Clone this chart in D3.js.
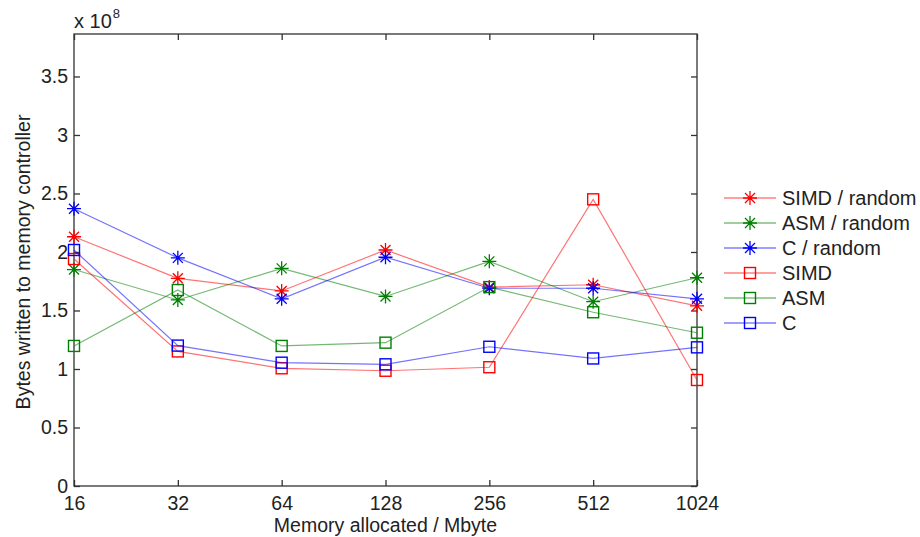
<!DOCTYPE html>
<html><head><meta charset="utf-8">
<script src="https://cdn.jsdelivr.net/npm/d3@7/dist/d3.min.js"></script>
<style>body{margin:0;background:#fff}svg{display:block;font-family:"Liberation Sans",Arial,sans-serif}</style>
</head><body><svg id="c" width="920" height="537"></svg>
<script>
const memSizes = [16, 32, 64, 128, 256, 512, 1024];
const yTicks = [0, 0.5, 1, 1.5, 2, 2.5, 3, 3.5];
const simdRandom = [2.13, 1.775, 1.667, 2.017, 1.70, 1.72, 1.54];
const asmRandom  = [1.85, 1.59, 1.86, 1.62, 1.92, 1.575, 1.78];
const cRandom    = [2.37, 1.95, 1.60, 1.955, 1.69, 1.69, 1.60];
const simd       = [1.94, 1.15, 1.006, 0.985, 1.015, 2.45, 0.906];
const asm        = [1.197, 1.675, 1.197, 1.225, 1.70, 1.485, 1.31];
const cPlain     = [2.017, 1.20, 1.054, 1.04, 1.19, 1.09, 1.185];
const seriesNames = ["SIMD / random", "ASM / random", "C / random", "SIMD", "ASM", "C"];
const seriesData = [simdRandom, asmRandom, cRandom, simd, asm, cPlain];
const seriesColors = ["#ff0000", "#008000", "#0000ff", "#ff0000", "#008000", "#0000ff"];
const seriesMarkers = ["star", "star", "star", "square", "square", "square"];

const svg = d3.select("#c");
const L = 74, R = 697, T = 34, B = 486;
const x = d3.scaleLog().base(2).domain([16, 1024]).range([L, R]);
const y = d3.scaleLinear().domain([0, 3.863]).range([B, T]);
const axisColor = "#333";

svg.append("rect").attr("x", L).attr("y", T).attr("width", R - L).attr("height", B - T)
  .attr("fill", "none").attr("stroke", axisColor).attr("stroke-width", 1.3);

const fs = "20px";
const tfs = "19.5px";
const xAx = svg.append("g").attr("transform", `translate(0,${B})`)
  .call(d3.axisBottom(x).tickValues(memSizes).tickFormat(d3.format("d")).tickSizeInner(-6).tickSizeOuter(0).tickPadding(10));
const xAxTop = svg.append("g").attr("transform", `translate(0,${T})`)
  .call(d3.axisTop(x).tickValues(memSizes).tickFormat("").tickSizeInner(-6).tickSizeOuter(0));
const yAx = svg.append("g").attr("transform", `translate(${L},0)`)
  .call(d3.axisLeft(y).tickValues(yTicks).tickFormat(d => String(d)).tickSizeInner(-6).tickSizeOuter(0).tickPadding(6));
const yAxR = svg.append("g").attr("transform", `translate(${R},0)`)
  .call(d3.axisRight(y).tickValues(yTicks).tickFormat("").tickSizeInner(-6).tickSizeOuter(0));
[xAx, xAxTop, yAx, yAxR].forEach(g => {
  g.select(".domain").remove();
  g.selectAll("line").attr("stroke", axisColor).attr("stroke-width", 1.3);
  g.selectAll("text").attr("font-size", tfs).attr("fill", "#222").attr("font-family", "Liberation Sans, Arial, sans-serif");
});

const line = d3.line().x((d, i) => x(memSizes[i])).y(d => y(d));
function drawMarker(g, type, color, cx, cy) {
  if (type === "square") {
    const s = 5.5;
    g.append("rect").attr("x", cx - s).attr("y", cy - s).attr("width", 2 * s).attr("height", 2 * s)
      .attr("fill", "none").attr("stroke", color).attr("stroke-width", 1.4);
  } else {
    const r = 7, d = 5;
    const p = `M${cx - r},${cy}L${cx + r},${cy}M${cx},${cy - r}L${cx},${cy + r}M${cx - d},${cy - d}L${cx + d},${cy + d}M${cx - d},${cy + d}L${cx + d},${cy - d}`;
    g.append("path").attr("d", p).attr("stroke", color).attr("stroke-width", 1.3).attr("fill", "none");
  }
}
seriesData.forEach((data, k) => {
  const g = svg.append("g");
  g.append("path").attr("d", line(data)).attr("fill", "none")
    .attr("stroke", seriesColors[k]).attr("stroke-opacity", 0.55).attr("stroke-width", 1.2);
  data.forEach((v, i) => drawMarker(g, seriesMarkers[k], seriesColors[k], x(memSizes[i]), y(v)));
});

const lg = svg.append("g");
seriesNames.forEach((name, k) => {
  const yy = 198 + k * 25;
  lg.append("line").attr("x1", 724).attr("x2", 776).attr("y1", yy).attr("y2", yy)
    .attr("stroke", seriesColors[k]).attr("stroke-opacity", 0.75).attr("stroke-width", 1.2);
  drawMarker(lg, seriesMarkers[k], seriesColors[k], 750, yy);
  lg.append("text").attr("x", 782).attr("y", yy + 7).attr("font-size", fs).attr("fill", "#222").text(name);
});

svg.append("text").attr("x", (L + R) / 2).attr("y", 531.5).attr("text-anchor", "middle")
  .attr("font-size", "19.5px").attr("fill", "#222").text("Memory allocated / Mbyte");
svg.append("text").attr("transform", `translate(30,${(T + B) / 2 + 2}) rotate(-90)`).attr("text-anchor", "middle")
  .attr("font-size", "19.5px").attr("fill", "#222").text("Bytes written to memory controller");
const ex = svg.append("text").attr("x", 74).attr("y", 28).attr("font-size", fs).attr("fill", "#222");
ex.append("tspan").text("x 10");
ex.append("tspan").attr("dy", -10).attr("dx", 1).attr("font-size", "13px").text("8");
</script></body></html>
